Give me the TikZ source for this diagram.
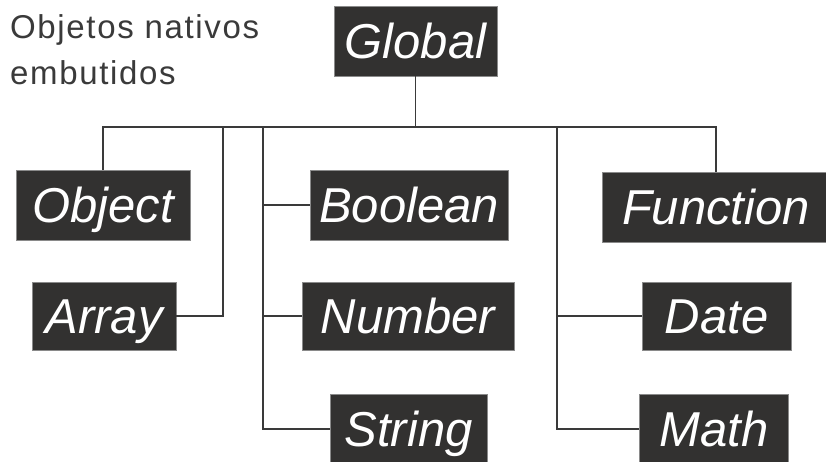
\documentclass[tikz,border=0pt]{standalone}
\usepackage{fontspec}
\setmainfont{Liberation Sans}
\newfontfamily\headfont[LetterSpace=5]{Liberation Sans}
\definecolor{boxgray}{HTML}{323130}
\definecolor{linegray}{HTML}{3A3A3A}
\definecolor{edgegray}{HTML}{8A8A8A}

\begin{document}
\begin{tikzpicture}[x=1pt, y=-1pt,
    objbox/.style={draw=edgegray, line width=0.8pt, fill=boxgray, text=white,
      inner sep=0pt, minimum height=70pt, text height=35pt, text depth=0pt,
      font=\fontsize{49}{52}\selectfont\itshape},
    link/.style={draw=linegray, line width=1.4pt}]
  \useasboundingbox[fill=white] (0,0) rectangle (826,461);

  % title
  \node[anchor=north west, align=left, inner sep=0pt, text=linegray,
    font=\headfont\fontsize{33}{46}\selectfont] (title) at (10,14)
    {Objetos nativos\\embutidos};

  % the objects
  \node[objbox, minimum width=163pt] (global) at (415.5,41) {Global};
  \node[objbox, minimum width=174pt] (object) at (103,205) {Object};
  \node[objbox, minimum width=144pt, minimum height=68pt] (array) at (104,316) {Array};
  \node[objbox, minimum width=198pt] (boolean) at (409,205) {Boolean};
  \node[objbox, minimum width=212pt, minimum height=68pt] (number) at (408,316) {Number};
  \node[objbox, minimum width=157pt] (string) at (408.5,429) {String};
  \node[objbox, minimum width=228pt] (function) at (716,207) {Function};
  \node[objbox, minimum width=149pt, minimum height=68pt] (date) at (716.5,316) {Date};
  \node[objbox, minimum width=149pt] (math) at (714,429) {Math};

  % tree lines
  \coordinate (bus) at (0,127);
  \draw[link] (global.south) -- (global.south |- bus);
  \draw[link] (object.north) -- (object.north |- bus)
    -- (function.north |- bus) -- (function.north);
  \coordinate (arraytap) at (223,127);
  \draw[link] (array.east) -| (arraytap);
  \coordinate (leftspine) at (263,127);
  \draw[link] (leftspine) |- (string.west);
  \draw[link] (leftspine |- boolean.west) -- (boolean.west);
  \draw[link] (leftspine |- number.west) -- (number.west);
  \coordinate (rightspine) at (557,127);
  \draw[link] (rightspine) |- (math.west);
  \draw[link] (rightspine |- date.west) -- (date.west);
\end{tikzpicture}
\end{document}
